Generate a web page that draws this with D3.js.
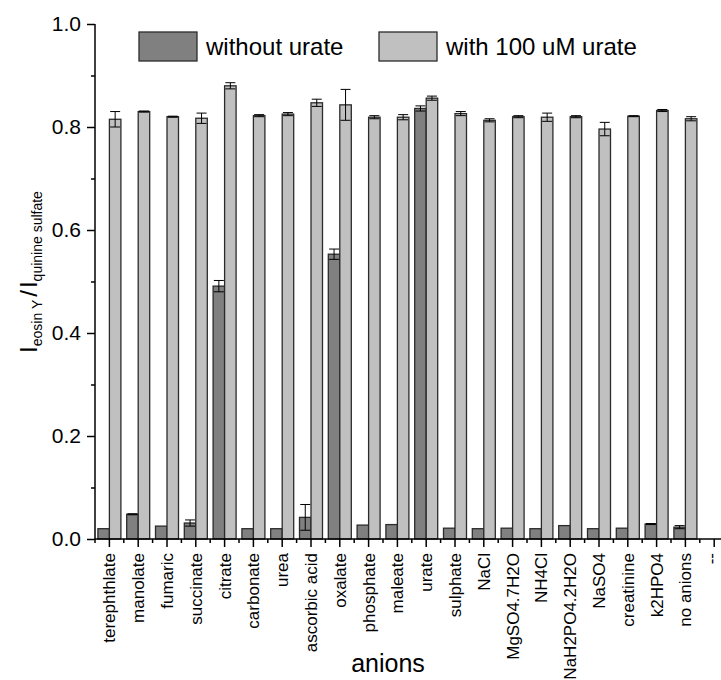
<!DOCTYPE html>
<html>
<head>
<meta charset="utf-8">
<script src="https://cdn.jsdelivr.net/npm/d3@7"></script>
<style>
  body { margin: 0; background: #fff; }
  svg text { font-family: Arial, "Liberation Sans", sans-serif; fill: #000; }
</style>
</head>
<body>
<div id="chart"></div>
<script>
// categories along x (the last one is an empty "--" slot)
var categories = ['terephthlate', 'manolate', 'fumaric', 'succinate', 'citrate', 'carbonate',
  'urea', 'ascorbic acid', 'oxalate', 'phosphate', 'maleate', 'urate', 'sulphate', 'NaCl',
  'MgSO4.7H2O', 'NH4Cl', 'NaH2PO4.2H2O', 'NaSO4', 'creatinine', 'k2HPO4', 'no anions', '--']

var withoutUrate = [0.020, 0.048, 0.025, 0.031, 0.491, 0.020, 0.020, 0.042, 0.553, 0.027, 0.028,
  0.836, 0.021, 0.020, 0.021, 0.020, 0.026, 0.020, 0.021, 0.029, 0.023]
var withoutErr = [0, 0.001, 0, 0.006, 0.011, 0, 0, 0.025, 0.010, 0, 0,
  0.005, 0, 0, 0, 0, 0, 0, 0, 0.001, 0.003]

var withUrate = [0.815, 0.830, 0.820, 0.817, 0.880, 0.822, 0.825, 0.847, 0.843, 0.819, 0.819,
  0.856, 0.826, 0.813, 0.820, 0.819, 0.820, 0.796, 0.821, 0.832, 0.816]
var withErr = [0.015, 0.001, 0.001, 0.010, 0.006, 0.002, 0.003, 0.007, 0.030, 0.003, 0.005,
  0.004, 0.004, 0.003, 0.002, 0.008, 0.002, 0.013, 0.001, 0.002, 0.004]

var yMajorTicks = [0, 0.2, 0.4, 0.6, 0.8, 1.0]
var yMinorTicks = [0.1, 0.3, 0.5, 0.7, 0.9]

var seriesNames = ['without urate', 'with 100 uM urate']
var seriesColors = ['#808080', '#c0c0c0']

var width = 721, height = 680
var axisX = 95, axisY = 539, topY = 24
var bandW = 28.8

var svg = d3.select('#chart').append('svg')
  .attr('width', width)
  .attr('height', height)

var xScale = d3.scaleBand()
  .domain(categories)
  .range([axisX, axisX + bandW * categories.length])
  .padding(0)

var yScale = d3.scaleLinear()
  .domain([0, 1])
  .range([axisY, topY])

var barW = 11.5

// build rows for both series
var rows = []
withoutUrate.forEach(function(v, i) {
  rows.push({ cat: categories[i], value: v, err: withoutErr[i], s: 0 })
  rows.push({ cat: categories[i], value: withUrate[i], err: withErr[i], s: 1 })
})

function barX(d) {
  var c = xScale(d.cat) + xScale.bandwidth() / 2
  return d.s === 0 ? c - barW : c
}

svg.append('g').selectAll('rect')
  .data(rows)
  .enter().append('rect')
  .attr('x', barX)
  .attr('y', function(d) { return yScale(d.value) })
  .attr('width', barW)
  .attr('height', function(d) { return yScale(0) - yScale(d.value) })
  .attr('fill', function(d) { return seriesColors[d.s] })
  .attr('stroke', '#2b2b2b')
  .attr('stroke-width', 1.3)

// error bars
var errG = svg.append('g').attr('stroke', '#000').attr('stroke-width', 1)
rows.filter(function(d) { return d.err > 0 }).forEach(function(d) {
  var cx = barX(d) + barW / 2
  var y1 = yScale(d.value + d.err), y2 = yScale(d.value - d.err)
  errG.append('line').attr('x1', cx).attr('x2', cx).attr('y1', y1).attr('y2', y2)
  errG.append('line').attr('x1', cx - 5).attr('x2', cx + 5).attr('y1', y1).attr('y2', y1)
  errG.append('line').attr('x1', cx - 5).attr('x2', cx + 5).attr('y1', y2).attr('y2', y2)
})

// y axis
var yAxis = d3.axisLeft(yScale)
  .tickValues(yMajorTicks)
  .tickSize(8)
  .tickPadding(6)
  .tickFormat(d3.format('.1f'))
var yg = svg.append('g')
  .attr('transform', 'translate(' + axisX + ',0)')
  .call(yAxis)
yg.selectAll('text').style('font-size', '21px')
yg.selectAll('line, path').attr('stroke', '#000').attr('stroke-width', 1.5)
yg.select('.domain').attr('d', 'M0,' + yScale(0) + 'V' + yScale(1))

svg.append('g')
  .attr('transform', 'translate(' + axisX + ',0)')
  .call(d3.axisLeft(yScale).tickValues(yMinorTicks).tickSize(4).tickFormat(''))
  .call(function(g) { g.select('.domain').remove() })
  .selectAll('line').attr('stroke', '#000').attr('stroke-width', 1.5)

// x axis
var xAxis = d3.axisBottom(xScale).tickSize(8).tickPadding(6)
var xg = svg.append('g')
  .attr('transform', 'translate(0,' + axisY + ')')
  .call(xAxis)
xg.select('.domain').attr('d', 'M' + axisX + ',0H' + width)
xg.selectAll('line, path').attr('stroke', '#000').attr('stroke-width', 1.5)
xg.selectAll('text')
  .style('font-size', '17px')
  .attr('transform', 'rotate(-90)')
  .attr('x', -14)
  .attr('y', function(d) { return d === '--' ? -3 : 0 })
  .attr('dy', '0.35em')
  .attr('text-anchor', 'end')

// minor x ticks at band edges
var edges = categories.map(function(c) { return xScale(c) })
svg.append('g').selectAll('line')
  .data(edges)
  .enter().append('line')
  .attr('x1', function(d) { return d })
  .attr('x2', function(d) { return d })
  .attr('y1', axisY)
  .attr('y2', axisY + 4)
  .attr('stroke', '#000')
  .attr('stroke-width', 1.5)

// axis titles
svg.append('text')
  .attr('x', 388)
  .attr('y', 672)
  .attr('text-anchor', 'middle')
  .style('font-size', '25px')
  .text('anions')

var yt = svg.append('text')
  .attr('transform', 'translate(37,272) rotate(-90)')
  .attr('text-anchor', 'middle')
  .style('font-size', '24px')
yt.append('tspan').text('I')
yt.append('tspan').attr('dy', 5).style('font-size', '14px').text('eosin Y')
yt.append('tspan').attr('dy', -5).attr('dx', 3).text('/')
yt.append('tspan').attr('dx', 2).text('I')
yt.append('tspan').attr('dy', 5).style('font-size', '14px').text('quinine sulfate')

// legend
var legendX = [139, 379]
seriesNames.forEach(function(name, i) {
  svg.append('rect')
    .attr('x', legendX[i])
    .attr('y', 32)
    .attr('width', 58)
    .attr('height', 29)
    .attr('fill', seriesColors[i])
    .attr('stroke', '#2b2b2b')
    .attr('stroke-width', 1.3)
  svg.append('text')
    .attr('x', legendX[i] + 67)
    .attr('y', 55)
    .style('font-size', '24px')
    .text(name)
})
</script>
</body>
</html>
